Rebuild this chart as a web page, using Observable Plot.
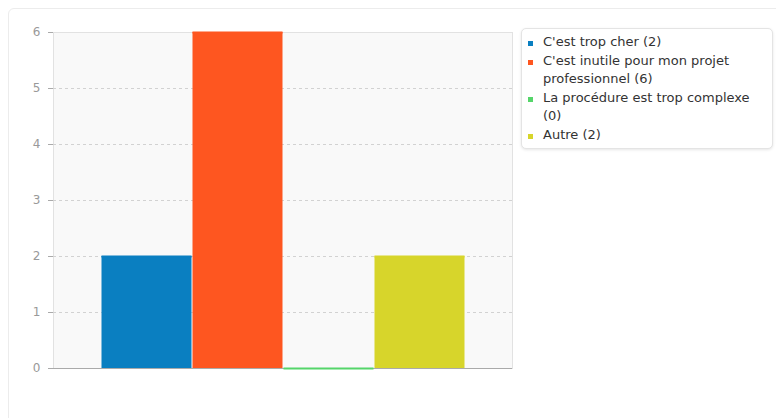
<!DOCTYPE html>
<html>
<head>
<meta charset="utf-8">
<script src="https://cdn.jsdelivr.net/npm/d3@7"></script>
<script src="https://cdn.jsdelivr.net/npm/@observablehq/plot@0.6"></script>
<style>
  html, body { margin: 0; padding: 0; background: #fff; width: 776px; height: 418px; overflow: hidden; }
  body { font-family: "DejaVu Sans", sans-serif; position: relative; }
  #card { position: absolute; left: 8px; top: 8px; width: 800px; height: 440px; border: 1px solid #ececec; border-radius: 6px; box-sizing: border-box; }
  #chart { position: absolute; left: 0; top: 0; }
  #legend { position: absolute; left: 521px; top: 28px; width: 252px; height: 121px; box-sizing: border-box;
            border: 1px solid #e4e4e4; border-radius: 5px; box-shadow: 0 1px 3px rgba(0,0,0,0.10); background: #fff;
            padding: 4px 6px 0 6px; font-size: 13px; color: #333; line-height: 18.5px; }
  .item { position: relative; padding-left: 15px; }
  .sw { position: absolute; left: 0; top: 8px; width: 5px; height: 5px; }
</style>
</head>
<body>
<div id="card"></div>
<div id="chart"></div>
<div id="legend"></div>
<script>
const categories = ["C'est trop cher", "C'est inutile pour mon projet professionnel", "La procédure est trop complexe", "Autre"];
const values = [2, 6, 0, 2];
const colors = ["#0a7fc1", "#fe5620", "#55d56a", "#d7d52b"];
const legendLabels = ["C'est trop cher (2)", "C'est inutile pour mon projet professionnel (6)", "La procédure est trop complexe (0)", "Autre (2)"];
const yTicks = [0, 1, 2, 3, 4, 5, 6];

const data = categories.map((c, i) => ({cat: c, value: values[i], color: colors[i]}));

const chart = Plot.plot({
  width: 776,
  height: 418,
  marginLeft: 53,
  marginRight: 264,
  marginTop: 32,
  marginBottom: 50,
  style: {background: "transparent", fontFamily: "DejaVu Sans, sans-serif", fontSize: "12px"},
  x: {domain: categories, paddingInner: 0, paddingOuter: 0.5, axis: null},
  y: {domain: [0, 6], ticks: yTicks, label: null},
  color: {type: "identity"},
  marks: [
    Plot.frame({fill: "#f9f9f9", stroke: "#e2e2e2"}),
    Plot.gridY(yTicks.filter(t => t > 0 && t < 6), {stroke: "#d2d2d2", strokeOpacity: 1, strokeDasharray: "3,3"}),
    Plot.ruleX([0], {frameAnchor: "left", stroke: "#aaa"}),
    Plot.ruleY([0], {stroke: "#aaa"}),
    Plot.barY(data, {x: "cat", y: "value", fill: "color", insetLeft: 0.5, insetRight: 0.5}),
    Plot.tickY(data, {x: "cat", y: "value", stroke: "color", strokeWidth: 2, insetLeft: 0.5, insetRight: 0.5}),
    Plot.axisY({ticks: yTicks, tickFormat: "d", tickSize: 5, tickPadding: 8, stroke: "#aaa", color: "#999", fontSize: 12, label: null})
  ]
});
document.getElementById("chart").appendChild(chart);

const legend = document.getElementById("legend");
legendLabels.forEach((t, i) => {
  const d = document.createElement("div");
  d.className = "item";
  const s = document.createElement("span");
  s.className = "sw";
  s.style.background = colors[i];
  d.appendChild(s);
  d.appendChild(document.createTextNode(t));
  legend.appendChild(d);
});
</script>
</body>
</html>
